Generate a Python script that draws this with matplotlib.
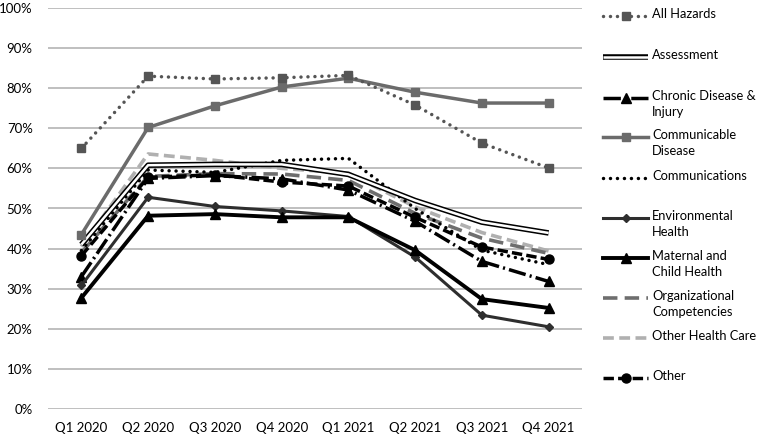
import numpy as np
import matplotlib
matplotlib.use("Agg")
from matplotlib import pyplot as plt
from matplotlib.ticker import PercentFormatter

plt.rcParams['font.family'] = ['Lato', 'DejaVu Sans']

quarters = ['Q1 2020', 'Q2 2020', 'Q3 2020', 'Q4 2020',
            'Q1 2021', 'Q2 2021', 'Q3 2021', 'Q4 2021']

all_hazards = [65.0, 83.0, 82.3, 82.6, 83.2, 75.8, 66.3, 60.1]
assessment = [41.0, 60.8, 61.0, 61.0, 58.5, 52.0, 46.6, 43.9]
chronic = [33.0, 57.5, 58.2, 57.4, 54.6, 46.8, 36.8, 31.8]
communicable = [43.5, 70.2, 75.6, 80.3, 82.5, 79.0, 76.3, 76.3]
communications = [39.5, 59.6, 59.0, 62.0, 62.5, 50.0, 39.6, 36.0]
environmental = [30.8, 52.8, 50.5, 49.4, 48.0, 37.9, 23.4, 20.5]
maternal = [27.7, 48.2, 48.6, 47.8, 47.8, 39.6, 27.4, 25.2]
organizational = [39.0, 58.0, 58.7, 58.6, 57.0, 48.8, 42.6, 38.8]
other_health_care = [40.5, 63.6, 62.0, 60.0, 58.8, 50.4, 44.0, 39.4]
other = [38.2, 57.8, 58.4, 56.6, 55.6, 47.8, 40.4, 37.3]

labels = ['All Hazards', 'Assessment', 'Chronic Disease &\nInjury',
          'Communicable\nDisease', 'Communications', 'Environmental\nHealth',
          'Maternal and\nChild Health', 'Organizational\nCompetencies',
          'Other Health Care', 'Other']
series = [all_hazards, assessment, chronic, communicable, communications,
          environmental, maternal, organizational, other_health_care, other]

dot = dict(dashes=(0.01, 2.0), dash_capstyle='round')
styles = [
    dict(color='#555555', lw=2.5, marker='s', ms=6, **dot),
    None,  # assessment: double line, drawn separately
    dict(color='black', lw=2.5, dashes=(5, 1.2, 0.6, 1.2), marker='^', ms=6.5),
    dict(color='#6b6b6b', lw=2.5, marker='s', ms=6),
    dict(color='black', lw=2.5, **dot),
    dict(color='#2e2e2e', lw=2.2, marker='D', ms=4),
    dict(color='black', lw=2.8, marker='^', ms=6.5),
    dict(color='#6e6e6e', lw=2.6, dashes=(4, 2)),
    dict(color='#b0b0b0', lw=2.6, dashes=(3, 1.5)),
    dict(color='black', lw=2.5, dashes=(3, 1.2), marker='o', ms=6.5),
]

fig = plt.figure(figsize=(7.63, 4.36), dpi=100)
ax = fig.add_axes([48 / 763, 1 - 409 / 436, 534 / 763, 401 / 436])
x = np.arange(len(quarters))

order = [8, 7, 4, 1, 9, 2, 5, 6, 3, 0]
for i in order:
    y = series[i]
    if styles[i] is None:
        ax.plot(x, y, color='black', lw=4.0, solid_capstyle='butt', zorder=3)
        ax.plot(x, y, color='white', lw=1.8, solid_capstyle='butt', zorder=3)
    else:
        ax.plot(x, y, zorder=3, **styles[i])

ax.set_xlim(-0.5, 7.5)
ax.set_ylim(0, 100)
ax.set_yticks(np.arange(0, 101, 10))
ax.yaxis.set_major_formatter(PercentFormatter(decimals=0))
ax.set_xticks(x)
ax.set_xticklabels(quarters)
ax.grid(axis='y', color='#b4b4b4', lw=1.2)
ax.set_axisbelow(True)
for s in ax.spines.values():
    s.set_visible(False)
ax.tick_params(length=0, labelsize=9.5, colors='black')
ax.tick_params(axis='y', pad=11)
ax.tick_params(axis='x', pad=9)

# legend drawn by hand so the key sits on the first text line
lax = fig.add_axes([0, 0, 1, 1])
lax.set_xlim(0, 763)
lax.set_ylim(436, 0)
lax.axis('off')
row_y = [16, 57, 98, 137, 178, 218, 258, 298, 338, 378]
hx = np.array([603, 625.5, 648])
for i, (lab, yy) in enumerate(zip(labels, row_y)):
    hy = [yy] * 3
    if styles[i] is None:
        lax.plot(hx, hy, color='black', lw=4.0, solid_capstyle='butt')
        lax.plot(hx, hy, color='white', lw=1.8, solid_capstyle='butt')
    else:
        st = dict(styles[i])
        mk = st.pop('marker', None)
        ms = st.pop('ms', None)
        lax.plot(hx, hy, **st)
        if mk:
            lax.plot(hx[1], yy, marker=mk, ms=ms, color=st['color'], ls='none')
    lax.annotate(lab, (652, yy), xytext=(0, 6), textcoords='offset points',
                 fontsize=9.3, va='top', ha='left', linespacing=1.4)

fig.savefig('out.png', dpi=100)
